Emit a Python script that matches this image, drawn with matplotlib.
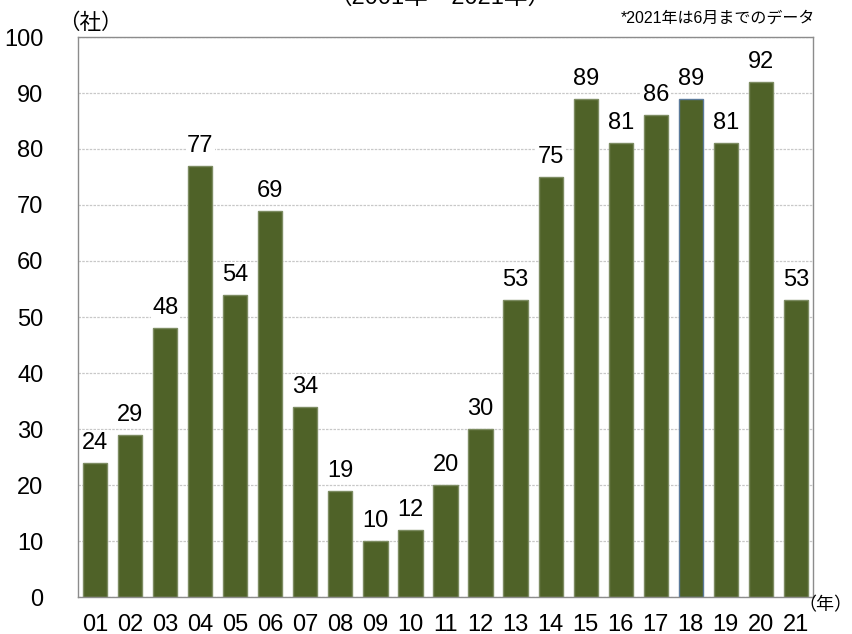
import matplotlib
matplotlib.use("Agg")
import matplotlib.pyplot as plt

plt.rcParams["font.family"] = ["Liberation Sans", "Noto Sans CJK JP", "DejaVu Sans"]

years = ["01", "02", "03", "04", "05", "06", "07", "08", "09", "10", "11",
         "12", "13", "14", "15", "16", "17", "18", "19", "20", "21"]
counts = [24, 29, 48, 77, 54, 69, 34, 19, 10, 12, 20,
          30, 53, 75, 89, 81, 86, 89, 81, 92, 53]
yticks = [0, 10, 20, 30, 40, 50, 60, 70, 80, 90, 100]

BAR = "#4F6228"

fig = plt.figure(figsize=(8.53, 6.34), dpi=100)
ax = fig.add_axes([78 / 853, 37 / 634, (813 - 78) / 853, (597 - 37) / 634])

x = list(range(len(years)))
edges = ["#7D8C62"] * len(years)
edges[years.index("18")] = "#5B7A9A"
ax.bar(x, counts, width=0.69, color=BAR, edgecolor=edges, linewidth=1.0, zorder=2)
for xi, v in zip(x, counts):
    ax.text(xi, v + 1.6, str(v), ha="center", va="bottom", fontsize=17, color="#000000",
            zorder=3, bbox=dict(facecolor="white", edgecolor="none", pad=1.0))

ax.set_xlim(-0.49, len(years) - 0.51)
ax.set_ylim(0, 100)
ax.set_yticks(yticks)
ax.set_yticklabels([str(t) for t in yticks], fontsize=17)
ax.set_xticks(x)
ax.set_xticklabels(years, fontsize=17)
ax.tick_params(axis="both", length=0)
ax.tick_params(axis="y", pad=25)
ax.tick_params(axis="x", pad=12)
ax.yaxis.grid(True, color="#C8C8C8", linestyle=(0, (2, 1)), linewidth=0.9, zorder=0)
ax.set_axisbelow(True)
for s in ax.spines.values():
    s.set_color("#8C8C8C")
    s.set_linewidth(1.0)

fig.text(58 / 853, 1 - 23 / 634, "（社）", fontsize=15.5, ha="left", va="center",
         family=["Noto Sans CJK JP", "DejaVu Sans"])
fig.text(852 / 853, 1 - 605 / 634, "（年）", fontsize=13, ha="right", va="center",
         family=["Noto Sans CJK JP", "DejaVu Sans"])
fig.text(440 / 853, 1 + 2 / 634, "（2001年～2021年）", fontsize=17, ha="center", va="center",
         family=["Liberation Sans", "Noto Sans CJK JP", "DejaVu Sans"])
fig.text(815 / 853, 1 - 18 / 634, "*2021年は6月までのデータ", fontsize=11.5, ha="right", va="center",
         family=["Liberation Sans", "Noto Sans CJK JP", "DejaVu Sans"])

fig.savefig("out.png", dpi=100, facecolor="white")
